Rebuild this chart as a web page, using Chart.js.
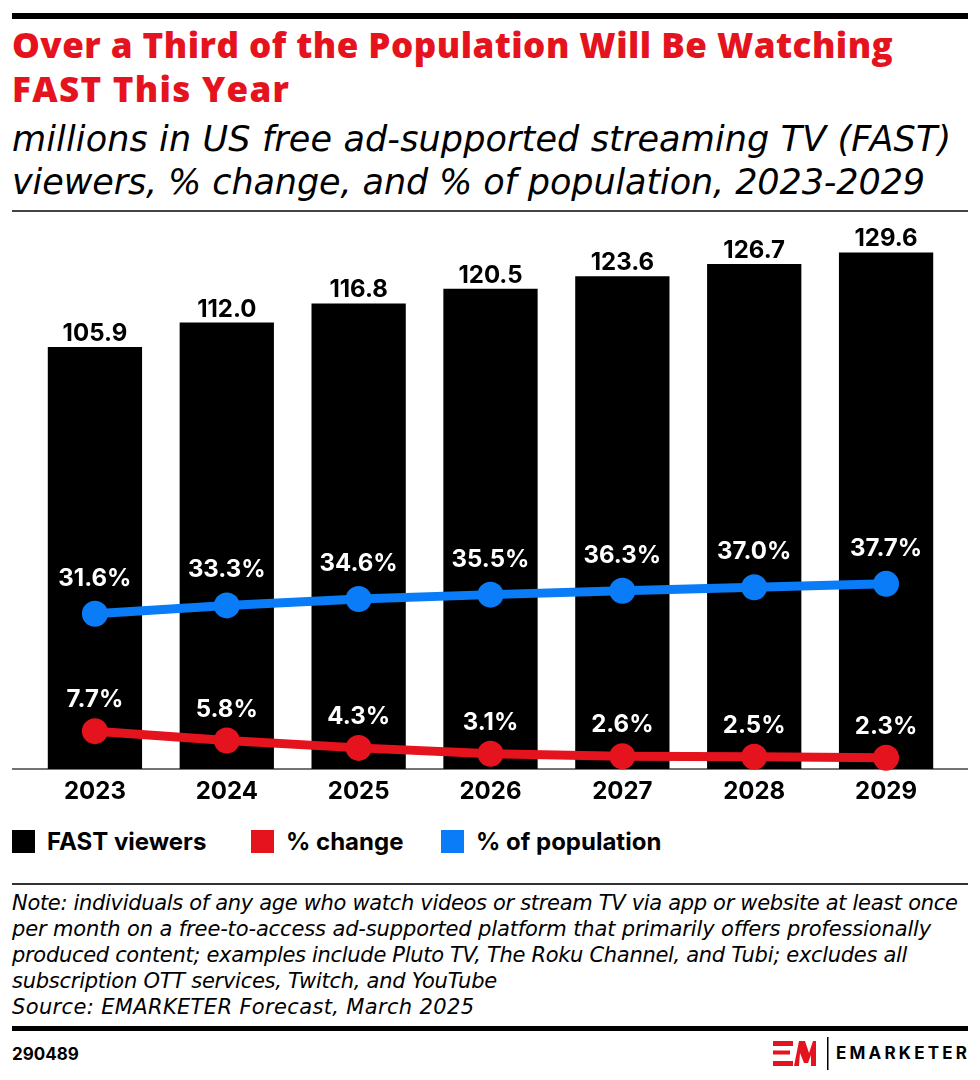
<!DOCTYPE html>
<html>
<head>
<meta charset="utf-8">
<script src="https://cdn.jsdelivr.net/npm/chart.js@4.4.1/dist/chart.umd.min.js"></script>
<style>
  body { margin:0; width:980px; height:1080px; background:#fff; position:relative; font-family:Inter, "Noto Sans", sans-serif; overflow:hidden; }
  .abs { position:absolute; }
  .barra { left:12px; width:956px; background:#000; }
  .linea { white-space:nowrap; }
  #titulo { left:12px; top:22.5px; margin:0; font-family:"Open Sans", sans-serif; font-size:35px; line-height:44.4px; font-weight:800; color:#e5131d; }
  #subtitulo { left:12px; top:117.8px; margin:0; font-family:"DejaVu Sans", sans-serif; font-style:italic; font-weight:300; font-size:35px; line-height:43.5px; color:#000; }
  #contenedor { left:12px; top:205px; width:956px; height:609px; }
  .leyenda { top:830px; height:23px; display:flex; align-items:center; font-size:24px; font-weight:700; }
  .caja { width:23px; height:23px; margin-right:12px; }
  #nota { left:12px; top:889.7px; margin:0; font-family:"DejaVu Sans", sans-serif; font-style:italic; font-size:21px; line-height:26px; color:#000; }
  #codigo { left:12px; top:1044px; font-size:17px; font-weight:700; }
  #marca { left:836px; top:1043px; font-size:17px; font-weight:700; letter-spacing:3.2px; }
</style>
</head>
<body>
  <div class="abs barra" style="top:13px;height:6px"></div>
  <h1 id="titulo" class="abs"><span class="linea" data-ancho="881">Over a Third of the Population Will Be Watching</span><br><span class="linea" data-ancho="277">FAST This Year</span></h1>
  <p id="subtitulo" class="abs"><span class="linea" data-ancho="939">millions in US free ad-supported streaming TV (FAST)</span><br><span class="linea" data-ancho="913">viewers, % change, and % of population, 2023-2029</span></p>
  <div class="abs barra" style="top:209.5px;height:2px;background:#444"></div>

  <div id="contenedor" class="abs"><canvas id="grafico"></canvas></div>

  <div class="abs leyenda" style="left:12px"><div class="caja" style="background:#000"></div>FAST viewers</div>
  <div class="abs leyenda" style="left:251px"><div class="caja" style="background:#e5131d"></div>% change</div>
  <div class="abs leyenda" style="left:441px"><div class="caja" style="background:#0a7cf7"></div>% of population</div>

  <div class="abs barra" style="top:883px;height:2px;background:#333"></div>
  <p id="nota" class="abs"><span class="linea" data-ancho="946">Note: individuals of any age who watch videos or stream TV via app or website at least once</span><br><span class="linea" data-ancho="920">per month on a free-to-access ad-supported platform that primarily offers professionally</span><br><span class="linea" data-ancho="895">produced content; examples include Pluto TV, The Roku Channel, and Tubi; excludes all</span><br><span class="linea" data-ancho="485">subscription OTT services, Twitch, and YouTube</span><br><span class="linea" data-ancho="462">Source: EMARKETER Forecast, March 2025</span></p>
  <div class="abs barra" style="top:1026px;height:5px"></div>

  <div id="codigo" class="abs">290489</div>
  <svg class="abs" style="left:770px;top:1036px" width="64" height="36">
    <g fill="#e5131d">
      <rect x="3" y="5" width="20" height="5"/>
      <rect x="3" y="14.5" width="17" height="4"/>
      <rect x="3" y="25" width="20" height="5"/>
      <polygon points="24,30 29,5 35,5 39,17 43,5 46,5 46,30 41,30 41,19 38,27 34,27 30,17 29,30"/>
    </g>
    <rect x="57" y="1" width="1.5" height="33" fill="#000"/>
  </svg>
  <div id="marca" class="abs">EMARKETER</div>

<script>
  const anios = ['2023', '2024', '2025', '2026', '2027', '2028', '2029'];
  const espectadores = [105.9, 112.0, 116.8, 120.5, 123.6, 126.7, 129.6];
  const cambio = [7.7, 5.8, 4.3, 3.1, 2.6, 2.5, 2.3];
  const poblacion = [31.6, 33.3, 34.6, 35.5, 36.3, 37.0, 37.7];

  const rojo = '#e5131d';
  const azul = '#0a7cf7';
  const fuente = 'Inter, "Noto Sans", sans-serif';

  // ajustar el espaciado de cada renglon al ancho del original
  document.querySelectorAll('.linea').forEach(el => {
    const objetivo = parseFloat(el.dataset.ancho);
    const natural = el.getBoundingClientRect().width;
    const n = el.textContent.length - 1;
    el.style.letterSpacing = ((objetivo - natural) / n).toFixed(2) + 'px';
  });

  // linea base que cruza todo el ancho y etiquetas de valores
  const etiquetas = {
    id: 'etiquetas',
    beforeDatasetsDraw(chart) {
      const ctx = chart.ctx;
      const y = chart.chartArea.bottom;
      ctx.save();
      ctx.strokeStyle = '#444';
      ctx.lineWidth = 1.5;
      ctx.beginPath();
      ctx.moveTo(0, y);
      ctx.lineTo(chart.width, y);
      ctx.stroke();
      ctx.restore();
    },
    afterDatasetsDraw(chart) {
      const ctx = chart.ctx;
      ctx.save();
      ctx.font = 'bold 24px ' + fuente;
      ctx.textAlign = 'center';
      ctx.textBaseline = 'alphabetic';
      chart.data.datasets.forEach((ds, i) => {
        const meta = chart.getDatasetMeta(i);
        meta.data.forEach((el, j) => {
          const v = ds.data[j];
          if (ds.type === 'bar') {
            ctx.fillStyle = '#000';
            ctx.fillText(v.toFixed(1), el.x, el.y - 6);
          } else {
            ctx.fillStyle = '#fff';
            ctx.fillText(v.toFixed(1) + '%', el.x, el.y - ds.separacion);
          }
        });
      });
      ctx.restore();
    }
  };

  const ctxGrafico = document.getElementById('grafico').getContext('2d');
  new Chart(ctxGrafico, {
    data: {
      labels: anios,
      datasets: [
        { type: 'line', label: '% change', data: cambio, yAxisID: 'y1', borderColor: rojo, backgroundColor: rojo,
          borderWidth: 9, pointRadius: 13, pointBorderWidth: 0, pointBackgroundColor: rojo, tension: 0, clip: false, order: 1, separacion: 24 },
        { type: 'line', label: '% of population', data: poblacion, yAxisID: 'y1', borderColor: azul, backgroundColor: azul,
          borderWidth: 9, pointRadius: 13, pointBorderWidth: 0, pointBackgroundColor: azul, tension: 0, clip: false, order: 1, separacion: 28 },
        { type: 'bar', label: 'FAST viewers', data: espectadores, yAxisID: 'y', backgroundColor: '#000',
          barPercentage: 0.715, categoryPercentage: 1.0, order: 2 }
      ]
    },
    options: {
      responsive: true,
      maintainAspectRatio: false,
      animation: false,
      layout: { autoPadding: false, padding: { top: 6, left: 17, right: 16, bottom: 0 } },
      plugins: { legend: { display: false }, tooltip: { enabled: false } },
      scales: {
        x: {
          grid: { display: false, drawTicks: false },
          border: { display: false },
          ticks: { color: '#000', padding: 8, font: { family: fuente, size: 24, weight: 'bold' } },
          afterFit: s => { s.height = 45; }
        },
        y: { display: false, min: 0, max: 140 },
        y1: { display: false, min: 0, max: 113.6 }
      }
    },
    plugins: [etiquetas]
  });
</script>
</body>
</html>
